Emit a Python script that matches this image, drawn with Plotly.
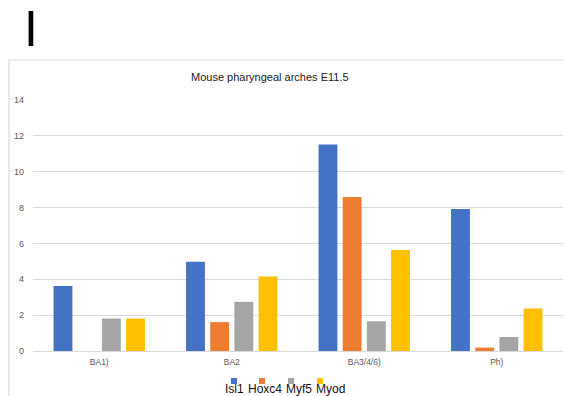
import plotly.graph_objects as go

categories = ["BA1)", "BA2", "BA3/4/6)", "Ph)"]
series_names = ["Isl1", "Hoxc4", "Myf5", "Myod"]
isl1 = [3.63, 4.98, 11.52, 7.92]
hoxc4 = [0.0, 1.61, 8.59, 0.19]
myf5 = [1.81, 2.74, 1.66, 0.78]
myod = [1.81, 4.16, 5.64, 2.37]
y_ticks = [0, 2, 4, 6, 8, 10, 12, 14]
title_text = "Mouse pharyngeal arches E11.5"
panel_label = "I"

colors = ["#4472C4", "#ED7D31", "#A5A5A5", "#FFC000"]
values = [isl1, hoxc4, myf5, myod]

W, H = 564, 396
ML, MR, MT, MB = 33, 1, 100, 45
PW, PH = W - ML - MR, H - MT - MB


def px_x(px):
    return (px - ML) / PW


def px_y(py):
    return (H - MB - py) / PH


fig = go.Figure()
for name, vals, col in zip(series_names, values, colors):
    fig.add_trace(go.Bar(x=categories, y=vals, name=name,
                         marker=dict(color=col, line=dict(width=0)),
                         showlegend=False))

sans = "Liberation Sans, Arial, sans-serif"

annotations = [
    dict(text=panel_label, x=px_x(31), y=px_y(29), xref="paper", yref="paper",
         showarrow=False, xanchor="center", yanchor="middle", borderpad=0,
         font=dict(family=sans, size=50, color="#000000")),
    dict(text=title_text, x=px_x(270), y=px_y(77), xref="paper", yref="paper",
         showarrow=False, xanchor="center", yanchor="middle",
         font=dict(family=sans, size=11, color="#1a1a1a")),
]

shapes = [
    dict(type="rect", xref="paper", yref="paper",
         x0=px_x(9), x1=px_x(600), y0=px_y(440), y1=px_y(60),
         line=dict(color="#d9d9d9", width=1.2), fillcolor="rgba(0,0,0,0)", layer="below"),
]

# custom legend: square above each label
leg_text_x = [234, 265, 299, 330]
leg_sq_x = [234, 262, 291, 320]
for name, col, tx, sx in zip(series_names, colors, leg_text_x, leg_sq_x):
    shapes.append(dict(type="rect", xref="paper", yref="paper",
                       x0=px_x(sx - 3), x1=px_x(sx + 3), y0=px_y(384), y1=px_y(378),
                       fillcolor=col, line=dict(width=0)))
    annotations.append(dict(text=name, x=px_x(tx), y=px_y(389), xref="paper", yref="paper",
                            showarrow=False, xanchor="center", yanchor="middle",
                            font=dict(family=sans, size=12, color="#111111")))

fig.update_layout(
    width=W, height=H,
    margin=dict(l=ML, r=MR, t=MT, b=MB, pad=0),
    paper_bgcolor="white", plot_bgcolor="white",
    barmode="group", bargap=0.27, bargroupgap=0.22,
    annotations=annotations, shapes=shapes,
    showlegend=False,
)
fig.update_yaxes(range=[0, 14], tickvals=y_ticks, showgrid=True,
                 gridcolor="#d9d9d9", gridwidth=1, zeroline=False,
                 showline=False, ticks="", ticklabelstandoff=8,
                 tickfont=dict(family=sans, size=9, color="#595959"))
fig.update_xaxes(showgrid=False, showline=True, linecolor="#d9d9d9", linewidth=1,
                 ticks="", ticklabelstandoff=3,
                 tickfont=dict(family=sans, size=8.5, color="#595959"))

fig.write_html(
    "out.html",
    config={"displayModeBar": False},
    post_script="document.body.style.margin='0';document.documentElement.style.overflow='hidden';document.body.style.overflow='hidden';",
)
